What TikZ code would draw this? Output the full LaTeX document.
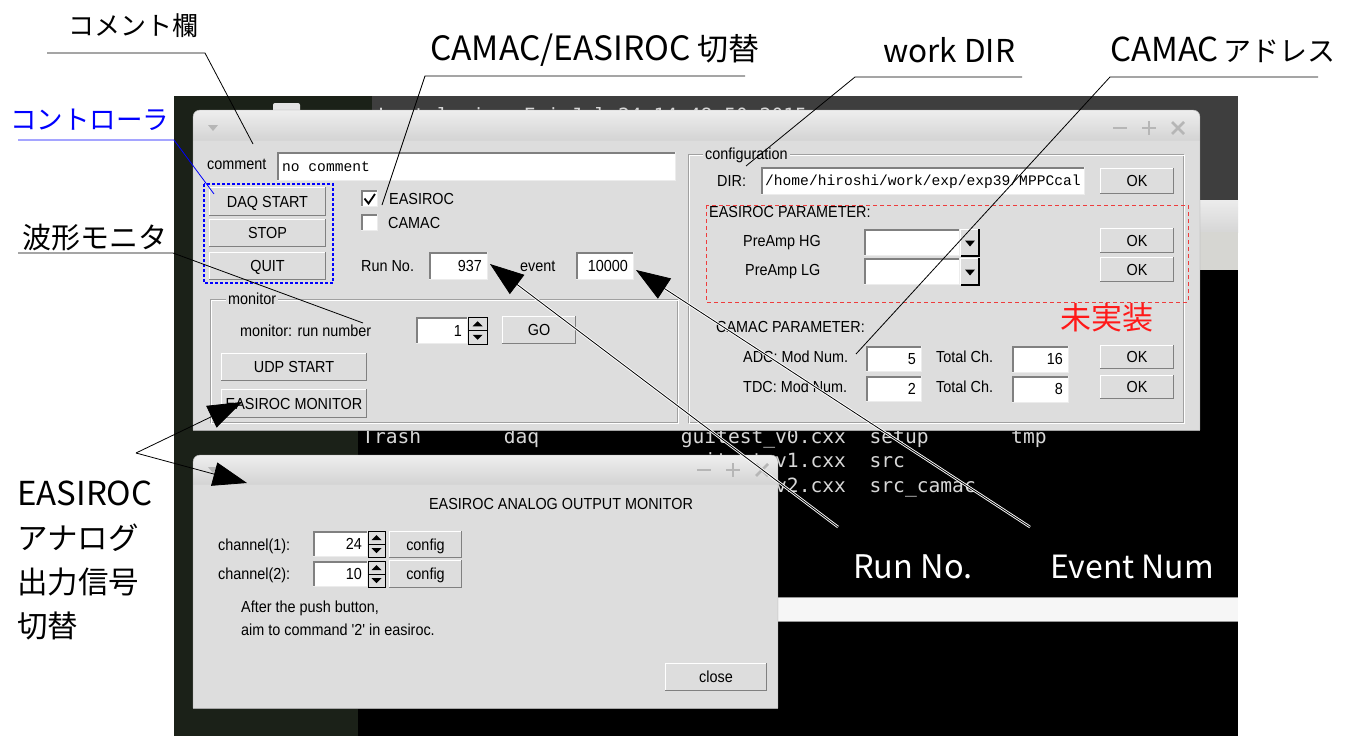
\documentclass[tikz,border=0pt]{standalone}
\usepackage{fontspec}
\setmainfont{Liberation Sans}
\newfontfamily\guifont[FakeStretch=0.9]{Liberation Sans}
\newfontfamily\fieldmono{Liberation Mono}
\newfontfamily\termmono{DejaVu Sans Mono}
\newfontfamily\jpfont{Noto Sans CJK JP}
\usetikzlibrary{arrows.meta}

\definecolor{winbg}{RGB}{221,221,221}
\definecolor{titletop}{RGB}{238,238,238}
\definecolor{titlebot}{RGB}{212,212,212}
\definecolor{winedge}{RGB}{165,165,165}
\definecolor{shadowgray}{RGB}{128,128,128}
\definecolor{etchgray}{RGB}{160,160,160}
\definecolor{deskgreen}{RGB}{27,33,24}
\definecolor{termgray}{RGB}{62,62,62}
\definecolor{termtext}{RGB}{215,215,215}
\definecolor{decogray}{RGB}{182,182,182}
\definecolor{stripA}{RGB}{236,236,236}
\definecolor{stripB}{RGB}{214,214,214}
\definecolor{stripC}{RGB}{214,214,210}
\definecolor{stripwhite}{RGB}{246,246,246}
\definecolor{stripedge}{RGB}{150,150,150}
\definecolor{icongray}{RGB}{228,228,228}
\definecolor{notyet}{RGB}{255,25,25}
\definecolor{reddash}{RGB}{238,60,60}
\definecolor{ctrlblue}{RGB}{0,0,255}

\newcommand\sz[1]{\fontsize{#1}{#1}\selectfont}

\tikzset{
  gui/.style={font=\guifont\fontsize{16}{18}\selectfont, inner sep=0pt,
              text height=11.5pt, text depth=0pt},
  guiL/.style={gui, anchor=west},
  guiR/.style={gui, anchor=east},
  fieldtxt/.style={font=\fieldmono\fontsize{14.6}{16}\selectfont, inner sep=0pt,
              text height=9.5pt, text depth=0pt, anchor=west},
  termtxt/.style={font=\termmono\fontsize{19.6}{22}\selectfont, text=termtext,
              inner sep=0pt, anchor=base west},
  note/.style={font=\jpfont\sz{#1}, inner sep=0pt, anchor=west},
  box/.style={inner sep=0pt, outer sep=0pt, draw=none},
  leader/.style={line width=0.8pt},
  bigarrow/.style={line width=0.8pt, -{Triangle[length=34pt,width=24pt]}},
  halo/.style={white, line width=2.6pt},
  decoline/.style={decogray, line width=2.6pt},
  bluedash/.style={ctrlblue, line width=1.1pt, dash pattern=on 3pt off 2pt},
  reddashed/.style={reddash, line width=1pt, dash pattern=on 4pt off 3pt},
}

% raised push button: name, x1, y1, x2, y2, caption
\newcommand\guiButton[6]{%
  \node[box, fill=winbg, minimum width={(#4-#2)*1pt}, minimum height={(#5-#3)*1pt}, gui]
     (#1) at ({(#2+#4)/2},{(#3+#5)/2}) {#6};
  \draw[white, line width=1.4pt] ([xshift=0.7pt]#1.south west) -- ([xshift=0.7pt,yshift=-0.7pt]#1.north west) -- ([yshift=-0.7pt]#1.north east);
  \draw[shadowgray, line width=1.4pt] ([yshift=0.7pt]#1.south west) -- ([xshift=-0.7pt,yshift=0.7pt]#1.south east) -- ([xshift=-0.7pt]#1.north east);
}
% sunken entry field: name, x1, y1, x2, y2
\newcommand\guiField[5]{%
  \node[box, fill=white, minimum width={(#4-#2)*1pt}, minimum height={(#5-#3)*1pt}]
     (#1) at ({(#2+#4)/2},{(#3+#5)/2}) {};
  \draw[shadowgray, line width=1.6pt] ([xshift=0.8pt]#1.south west) -- ([xshift=0.8pt,yshift=-0.8pt]#1.north west) -- ([yshift=-0.8pt]#1.north east);
  \draw[stripA, line width=1pt] ([yshift=0.5pt]#1.south west) -- ([xshift=-0.5pt,yshift=0.5pt]#1.south east) -- ([xshift=-0.5pt]#1.north east);
}
% up/down spin buttons: name, x1, y1, x2, y2
\newcommand\guiSpin[5]{%
  \node[box, fill=winbg, minimum width={(#4-#2)*1pt}, minimum height={(#5-#3)*1pt}]
     (#1) at ({(#2+#4)/2},{(#3+#5)/2}) {};
  \draw[black, line width=1pt] (#1.north west) rectangle (#1.south east);
  \draw[black, line width=0.8pt] (#1.west) -- (#1.east);
  \pgfmathsetmacro\gSx{(#2+#4)/2}
  \pgfmathsetmacro\gSu{#3+(#5-#3)/4}
  \pgfmathsetmacro\gSd{#5-(#5-#3)/4}
  \fill[black] (\gSx-5,\gSu+2.5) -- (\gSx+5,\gSu+2.5) -- (\gSx,\gSu-2.5) -- cycle;
  \fill[black] (\gSx-5,\gSd-2.5) -- (\gSx+5,\gSd-2.5) -- (\gSx,\gSd+2.5) -- cycle;
}
% drop-down list: name, x1, y1, x2, y2
\newcommand\guiCombo[5]{%
  \guiField{#1}{#2}{#3}{#4-20}{#5}
  \node[box, fill=winbg, minimum width=20pt, minimum height={(#5-#3)*1pt}]
     (#1btn) at ({#4-10},{(#3+#5)/2}) {};
  \draw[white, line width=1pt] (#1btn.south west) -- (#1btn.north west) -- (#1btn.north east);
  \draw[black, line width=1.6pt] ([xshift=0.8pt]#1btn.south west) -- ([xshift=-0.8pt]#1btn.south east) -- ([xshift=-0.8pt]#1btn.north east);
  \fill[black] ({#4-15},{(#3+#5)/2-2}) -- ({#4-5},{(#3+#5)/2-2}) -- ({#4-10},{(#3+#5)/2+4}) -- cycle;
}
% etched group frame: name, x1, y1, x2, y2, caption, caption x
\newcommand\guiGroup[7]{%
  \draw[etchgray, line width=1pt] (#2,#3) rectangle (#4,#5);
  \draw[white, line width=1pt] (#2+1.2,#3+1.2) rectangle (#4+1.2,#5+1.2);
  \node[guiL, fill=winbg, inner xsep=2pt] (#1) at (#7,#3) {#6};
}
% title bar buttons (minimise, maximise, close) centred on x1, x2, x3 at height y
\newcommand\titleDeco[4]{%
  \draw[decoline] (#1-7,#4) -- (#1+7,#4);
  \draw[decoline] (#2-7,#4) -- (#2+7,#4) (#2,#4-7) -- (#2,#4+7);
  \draw[decoline] (#3-6,#4-6) -- (#3+6,#4+6) (#3-6,#4+6) -- (#3+6,#4-6);
}

\begin{document}
\begin{tikzpicture}[x=1pt,y=-1pt]
\useasboundingbox (0,0) rectangle (1353,736);
\fill[white] (0,0) rectangle (1353,736);

% ---------- desktop and terminals behind the dialogs
\fill[deskgreen] (174,96) rectangle (1238,736);
\fill[icongray, rounded corners=2] (273,103) rectangle (300,114);
\fill[termgray] (372,96) rectangle (1238,200);
\shade[top color=stripA, bottom color=stripB] (1200,200) rectangle (1238,232);
\fill[stripC] (1200,232) rectangle (1238,270);
\fill[black] (358,270) rectangle (1238,597);
\fill[stripwhite] (358,597) rectangle (1238,622);
\draw[stripedge] (358,597.5) -- (1238,597.5) (358,621.5) -- (1238,621.5);
\fill[black] (358,622) rectangle (1238,736);

\node[termtxt] (tLogin) at (378,122) {Last login: Fri Jul 24 14:48:50 2015};
\node[termtxt] (tTrash) at (362,443) {Trash};
\node[termtxt] (tDaq) at (503.6,443) {daq};
\node[termtxt] (tGui0) at (680.6,443) {guitest\_v0.cxx};
\node[termtxt] (tSetup) at (869.4,443) {setup};
\node[termtxt] (tTmp) at (1011,443) {tmp};
\node[termtxt] (tGui1) at (680.6,467.5) {guitest\_v1.cxx};
\node[termtxt] (tSrc) at (869.4,467.5) {src};
\node[termtxt] (tGui2) at (680.6,492) {guitest\_v2.cxx};
\node[termtxt] (tSrcCamac) at (869.4,492) {src\_camac};

% ---------- main control window
\begin{scope}
  \clip[rounded corners=7] (193,110) rectangle (1200,450);
  \fill[winbg] (193,110) rectangle (1200,430);
  \shade[top color=titletop, bottom color=titlebot] (193,110) rectangle (1200,140);
\end{scope}
\draw[winedge, rounded corners=7] (193,430) -- (193,110) -- (1200,110) -- (1200,430);
\draw[winedge] (193,430) -- (1200,430);
\draw[stripB] (194,140.5) -- (1199,140.5);
\fill[decogray] (208,125) -- (218,125) -- (213,131) -- cycle;
\titleDeco{1120}{1149}{1178}{128}

\node[guiL] (cmtLabel) at (207,164) {comment};
\guiField{cmtField}{277}{152}{676}{181}
\node[fieldtxt] (cmtText) at (282,167) {no comment};

\guiButton{daqStart}{209}{187}{326}{216}{DAQ START}
\guiButton{daqStop}{209}{219}{326}{247}{STOP}
\guiButton{daqQuit}{209}{252}{326}{280}{QUIT}
\draw[bluedash] (204,184) rectangle (333,283);

\guiField{chkEasiroc}{361}{190}{378}{207}
\draw[black, line width=1.8pt] (364.5,198.5) -- (368.5,203.5) -- (375,194);
\node[guiL] (lblEasiroc) at (389,199) {EASIROC};
\guiField{chkCamac}{361}{214}{378}{231}
\node[guiL] (lblCamac) at (388,223) {CAMAC};

\node[guiL] (lblRunNo) at (361,266) {Run No.};
\guiField{runField}{429}{252}{488}{280}
\node[guiR] (runVal) at (482,266) {937};
\node[guiL] (lblEvent) at (520,266) {event};
\guiField{eventField}{576}{252}{634}{280}
\node[guiR] (eventVal) at (628,266) {10000};

\guiGroup{grpMonitor}{210}{299}{677}{422}{monitor}{226}
\node[guiL] (lblMonRun) at (240,331) {monitor: run number};
\guiField{monField}{416}{317}{468}{344}
\node[guiR] (monVal) at (462,331) {1};
\guiSpin{monSpin}{468}{317}{487}{344}
\guiButton{btnGo}{502}{316}{576}{344}{GO}
\guiButton{btnUdp}{221}{353}{367}{381}{UDP START}
\guiButton{btnMon}{221}{389}{367}{418}{EASIROC MONITOR}

\guiGroup{grpConfig}{688}{154}{1183}{422}{configuration}{703}
\node[guiL] (lblDir) at (717,181) {DIR:};
\guiField{dirField}{761}{167}{1085}{195}
\node[fieldtxt] (dirText) at (765,181) {/home/hiroshi/work/exp/exp39/MPPCcal};
\guiButton{okDir}{1100}{168}{1174}{194}{OK}

\node[guiL] (lblEasiPar) at (709,212) {EASIROC PARAMETER:};
\node[guiL] (lblHG) at (743,241) {PreAmp HG};
\guiCombo{comboHG}{864}{229}{980}{256}
\guiButton{okHG}{1100}{228}{1174}{253}{OK}
\node[guiL] (lblLG) at (745,270) {PreAmp LG};
\guiCombo{comboLG}{864}{258}{980}{285}
\guiButton{okLG}{1100}{257}{1174}{282}{OK}
\draw[reddashed] (706,205) rectangle (1188,302);
\node[note=31, text=notyet] (lblNotImpl) at (1060,318) {未実装};

\node[guiL] (lblCamacPar) at (716,327) {CAMAC PARAMETER:};
\node[guiL] (lblAdc) at (743,357) {ADC: Mod Num.};
\guiField{adcMod}{866}{346}{922}{372}
\node[guiR] (adcModVal) at (916,359) {5};
\node[guiL] (lblAdcCh) at (936,357) {Total Ch.};
\guiField{adcCh}{1012}{346}{1069}{373}
\node[guiR] (adcChVal) at (1063,359) {16};
\guiButton{okAdc}{1100}{345}{1174}{369}{OK}
\node[guiL] (lblTdc) at (743,387) {TDC: Mod Num.};
\guiField{tdcMod}{866}{376}{922}{402}
\node[guiR] (tdcModVal) at (916,389) {2};
\node[guiL] (lblTdcCh) at (936,387) {Total Ch.};
\guiField{tdcCh}{1012}{376}{1069}{403}
\node[guiR] (tdcChVal) at (1063,389) {8};
\guiButton{okTdc}{1100}{375}{1174}{399}{OK}

% ---------- analog output monitor window
\begin{scope}
  \clip[rounded corners=7] (193,455) rectangle (778,730);
  \fill[winbg] (193,455) rectangle (778,708);
  \shade[top color=titletop, bottom color=titlebot] (193,455) rectangle (778,484);
\end{scope}
\draw[winedge, rounded corners=7] (193,708) -- (193,455) -- (778,455) -- (778,708);
\draw[winedge] (193,708) -- (778,708);
\draw[stripB] (194,484.5) -- (777,484.5);
\fill[decogray] (208,467) -- (218,467) -- (213,473) -- cycle;
\titleDeco{704}{733}{762}{470}

\node[gui] (monTitle) at (561,504) {EASIROC ANALOG OUTPUT MONITOR};
\node[guiL] (lblCh1) at (218,545) {channel(1):};
\guiField{ch1Field}{313}{531}{368}{557}
\node[guiR] (ch1Val) at (362,544) {24};
\guiSpin{ch1Spin}{368}{531}{385}{557}
\guiButton{cfg1}{389}{531}{462}{558}{config}
\node[guiL] (lblCh2) at (218,574) {channel(2):};
\guiField{ch2Field}{313}{561}{368}{587}
\node[guiR] (ch2Val) at (362,574) {10};
\guiSpin{ch2Spin}{368}{561}{385}{587}
\guiButton{cfg2}{389}{560}{462}{588}{config}
\node[guiL] (hint1) at (241,607) {After the push button,};
\node[guiL] (hint2) at (241,630) {aim to command '2' in easiroc.};
\guiButton{btnClose}{665}{663}{767}{691}{close}

% ---------- callouts
\node[note=26] (nComment) at (68,26) {コメント欄};
\coordinate (nCommentA) at (47,53);
\coordinate (nCommentB) at (205,53);
\coordinate (nCommentT) at (253,144);
\draw[leader] (nCommentA) -- (nCommentB) -- (nCommentT);

\node[note=31] (nSwitch) at (430,50) {{\sz{33.5}CAMAC/EASIROC} 切替};
\coordinate (nSwitchA) at (425,76);
\coordinate (nSwitchB) at (745,76);
\coordinate (nSwitchT) at (382,205);
\draw[leader] (nSwitchB) -- (nSwitchA) -- (nSwitchT);

\node[note=31.5] (nDir) at (883,50) {work DIR};
\coordinate (nDirA) at (855,77);
\coordinate (nDirB) at (1022,77);
\coordinate (nDirT) at (746,166);
\draw[leader] (nDirB) -- (nDirA) -- (nDirT);

\node[note=28] (nAddr) at (1110,50) {{\sz{33}CAMAC}\,アドレス};
\coordinate (nAddrA) at (1110,77);
\coordinate (nAddrB) at (1318,77);
\coordinate (nAddrT) at (856,354);
\draw[leader] (nAddrB) -- (nAddrA) -- (nAddrT);

\node[note=26.5, text=ctrlblue] (nCtrl) at (10,120) {コントローラ};
\coordinate (nCtrlA) at (18,140);
\coordinate (nCtrlB) at (174,140);
\coordinate (nCtrlT) at (214,194);
\draw[leader, ctrlblue] (nCtrlA) -- (nCtrlB) -- (nCtrlT);

\node[note=29] (nWave) at (22,238) {波形モニタ};
\coordinate (nWaveA) at (18,253);
\coordinate (nWaveB) at (173,253);
\coordinate (nWaveT) at (363,323);
\draw[leader] (nWaveA) -- (nWaveB) -- (nWaveT);

\node[note=30, font=\jpfont\fontsize{30.5}{44}\selectfont, align=left] (nAnalog) at (17,560)
  {{\sz{33}EASIROC}\\アナログ\\出力信号\\切替};
\coordinate (nAnalogA) at (136,453);
\coordinate (nAnalogT1) at (242,402);
\coordinate (nAnalogT2) at (247,483);
\draw[bigarrow] (nAnalogA) -- (nAnalogT1);
\draw[bigarrow] (nAnalogA) -- (nAnalogT2);

\node[note=32.5, text=white] (nRun) at (853,567) {Run No.};
\coordinate (nRunA) at (838,527);
\coordinate (nRunT) at (490,264);
\draw[halo, shorten >=30pt] (nRunA) -- (nRunT);
\draw[bigarrow] (nRunA) -- (nRunT);

\node[note=32, text=white] (nEvent) at (1050,567) {Event Num};
\coordinate (nEventA) at (1030,527);
\coordinate (nEventT) at (636,270);
\draw[halo, shorten >=30pt] (nEventA) -- (nEventT);
\draw[bigarrow] (nEventA) -- (nEventT);
\end{tikzpicture}
\end{document}
